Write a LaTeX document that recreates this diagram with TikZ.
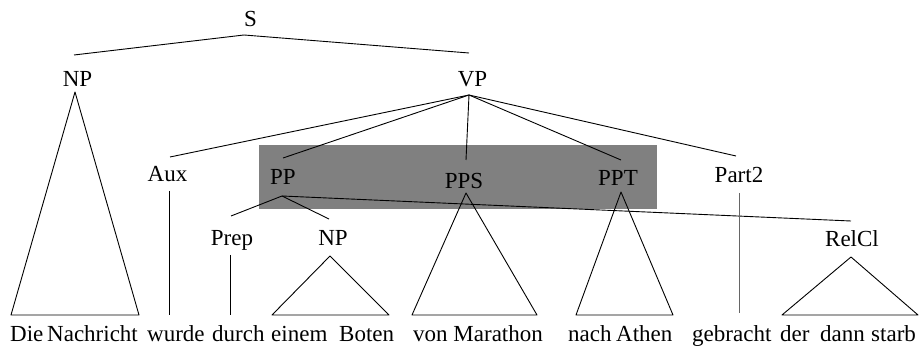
\documentclass[tikz,border=0pt]{standalone}
\usepackage{fontspec}
\setmainfont{Liberation Serif}
\begin{document}
\begin{tikzpicture}[x=1pt,y=-1pt,
  lbl/.style={inner sep=0pt,anchor=base,font=\fontsize{23pt}{27pt}\selectfont},
  word/.style={lbl,anchor=base west},
  edge/.style={draw=black,line width=0.9pt,line join=round},
  hilite/.style={fill=black!50,draw=none}]
\useasboundingbox (0,0) rectangle (922,347);

% shaded band behind PP, PPS and PPT
\fill[hilite] (259,145) rectangle (657,209);

% category labels
\node[lbl] (S)     at (250.5,26.5) {S};
\node[lbl] (NP)    at (77.5,86.5)  {NP};
\node[lbl] (VP)    at (472.5,86.5) {VP};
\node[lbl] (Aux)   at (167.5,181.5){Aux};
\node[lbl] (PP)    at (283,185)    {PP};
\node[lbl] (PPS)   at (464,189)    {PPS};
\node[lbl] (PPT)   at (618,186)    {PPT};
\node[lbl] (Part2) at (739,183)    {Part2};
\node[lbl] (Prep)  at (232,246)    {Prep};
\node[lbl] (NPb)   at (333,246)    {NP};
\node[lbl] (RelCl) at (852,247)    {RelCl};

% terminal words, each set by its left edge
\node[word] (w1)  at (10,341.5)  {Die};
\node[word] (w2)  at (47,341.5)  {Nachricht};
\node[word] (w3)  at (147,341.5) {wurde};
\node[word] (w4)  at (212,341.5) {durch};
\node[word] (w5)  at (271,341.5) {einem};
\node[word] (w6)  at (339,341.5) {Boten};
\node[word] (w7)  at (413,341.5) {von Marathon};
\node[word] (w8)  at (568,341.5) {nach};
\node[word] (w9)  at (616,341.5) {Athen};
\node[word] (w10) at (692,341.5) {gebracht};
\node[word] (w11) at (780,341.5) {der};
\node[word] (w12) at (820,341.5) {dann};
\node[word] (w13) at (871,341.5) {starb};

% branch points below and above the labels
\coordinate (S-lo)     at (244,35);
\coordinate (NP-up)    at (74,55);
\coordinate (VP-up)    at (469,53);
\coordinate (NP-lo)    at (75,92);
\coordinate (VP-lo)    at (469,95);
\coordinate (Aux-up)   at (170,157);
\coordinate (PP-up)    at (283,158);
\coordinate (PPS-up)   at (466,160);
\coordinate (PPT-up)   at (621,160);
\coordinate (Part2-up) at (736,156);
\coordinate (Aux-lo)   at (169.5,191);
\coordinate (Aux-end)  at (169.5,315);
\coordinate (Part2-lo) at (739,193);
\coordinate (Part2-end)at (739,313);
\coordinate (PP-lo)    at (282,196);
\coordinate (Prep-up)  at (231,216);
\coordinate (NPb-up)   at (329,219);
\coordinate (RelCl-up) at (851,221);
\coordinate (Prep-lo)  at (230,255);
\coordinate (Prep-end) at (230,315);
\coordinate (NPb-lo)   at (330,256);
\coordinate (PPS-lo)   at (466,193);
\coordinate (PPT-lo)   at (621,192);
\coordinate (RelCl-lo) at (851,257);

% tree edges
\draw[edge] (NP-up) -- (S-lo) -- (VP-up);
\draw[edge] (VP-lo) -- (Aux-up);
\draw[edge] (VP-lo) -- (PP-up);
\draw[edge] (VP-lo) -- (PPS-up);
\draw[edge] (VP-lo) -- (PPT-up);
\draw[edge] (VP-lo) -- (Part2-up);
\draw[edge] (Prep-up) -- (PP-lo) -- (NPb-up);
\draw[edge] (PP-lo) -- (RelCl-up);
\draw[edge] (Aux-lo) -- (Aux-end);
\draw[edge] (Prep-lo) -- (Prep-end);
\draw[edge,draw=black!60] (Part2-lo) -- (Part2-end);

% collapsed subtrees
\draw[edge] (NP-lo) -- (139,315) -- (11,315) -- cycle;
\draw[edge] (NPb-lo) -- (389,315) -- (272,315) -- cycle;
\draw[edge] (PPS-lo) -- (537,315) -- (412,315) -- cycle;
\draw[edge] (PPT-lo) -- (673,315) -- (576,315) -- cycle;
\draw[edge] (RelCl-lo) -- (918,315) -- (782,315) -- cycle;
\end{tikzpicture}
\end{document}
